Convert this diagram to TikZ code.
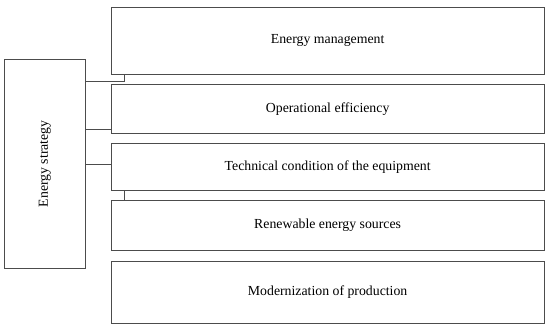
\documentclass[tikz,border=0pt]{standalone}
\usepackage{fontspec}
\setmainfont{Liberation Serif}
\begin{document}
\begin{tikzpicture}[x=1pt,y=-1pt,
  box/.style={draw=black!70,line width=0.9pt,inner sep=0pt,font=\fontsize{13.8}{15}\selectfont},
  conn/.style={draw=black!70,line width=0.9pt}]
\useasboundingbox (0,0) rectangle (550,330);
\node[box,minimum width=80.3pt,minimum height=209pt] (es) at (44.85,163.8) {};
\node[rotate=90,font=\fontsize{13.8}{15}\selectfont] (est) at (es.center) {Energy strategy};
\node[box,minimum width=433.3pt,minimum height=66.4pt] (b1) at (327.65,40.9) {Energy management};
\node[box,minimum width=433.3pt,minimum height=49pt] (b2) at (327.65,108.8) {Operational efficiency};
\node[box,minimum width=433.3pt,minimum height=47pt] (b3) at (327.65,167.2) {Technical condition of the equipment};
\node[box,minimum width=433.3pt,minimum height=50.4pt] (b4) at (327.65,225.5) {Renewable energy sources};
\node[box,minimum width=433.3pt,minimum height=62.3pt] (b5) at (327.65,292.15) {Modernization of production};
\coordinate (c1) at (124,81.3);
\draw[conn] (es.east |- c1) -- (c1) -- (c1 |- b1.south);
\draw[conn] (es.east |- 0,129.3) -- (b2.west |- 0,129.3);
\draw[conn] (es.east |- 0,164) -- (b3.west |- 0,164);
\draw[conn] (c1 |- b3.south) -- (c1 |- b4.north);
\end{tikzpicture}
\end{document}
